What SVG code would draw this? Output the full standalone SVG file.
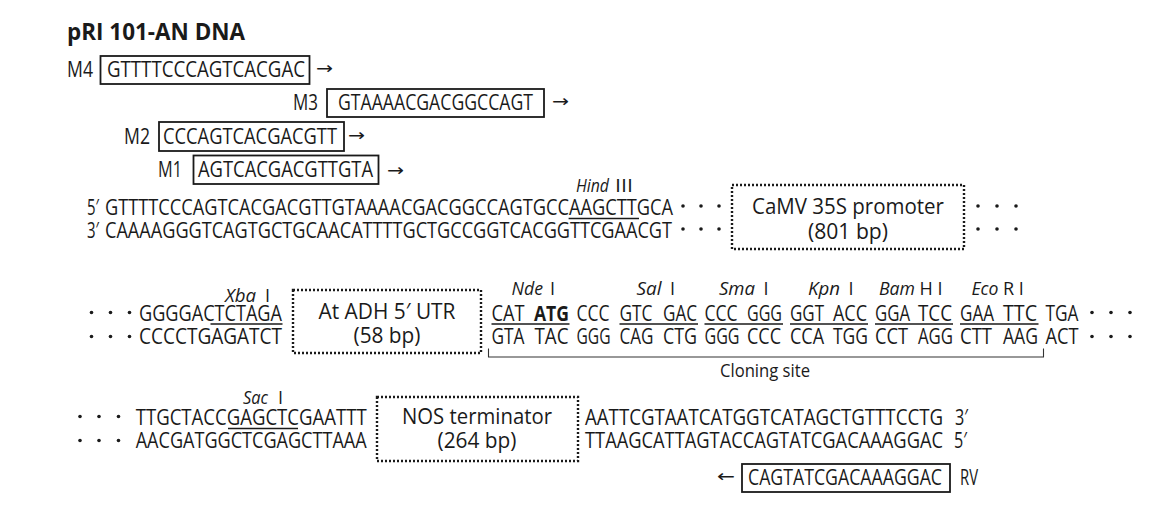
<svg xmlns="http://www.w3.org/2000/svg" width="1171" height="529" viewBox="0 0 1171 529">
<style>
text{font-family:"Open Sans","Noto Sans","Liberation Sans",sans-serif;fill:#1a1a1a}
.s{font-size:21.5px}
.l{font-size:18px}
.it{font-style:italic}
.b{font-weight:bold}
.ar{font-family:"DejaVu Sans",sans-serif;font-size:17px}
.box{fill:none;stroke:#1a1a1a;stroke-width:1.8}
.dot{fill:none;stroke:#1a1a1a;stroke-width:2.4;stroke-dasharray:2 2}
.ul{stroke:#1a1a1a;stroke-width:1.7}
.br{fill:none;stroke:#333;stroke-width:1.1}
circle{fill:#1a1a1a}
</style>
<rect width="1171" height="529" fill="#fff"/>
<g id="title"><text x="67" y="40" class="b" font-size="23.5" textLength="178" lengthAdjust="spacingAndGlyphs">pRI 101-AN DNA</text></g>

<g id="primer-M4">
<text class="s" x="67" y="77" textLength="26" lengthAdjust="spacingAndGlyphs">M4</text>
<rect class="box" x="100.5" y="56" width="209" height="28"/>
<text class="s" x="107" y="77" textLength="198" lengthAdjust="spacingAndGlyphs">GTTTTCCCAGTCACGAC</text>
<text class="ar" x="316" y="74" textLength="17" lengthAdjust="spacingAndGlyphs">→</text>
</g>
<g id="primer-M3">
<text class="s" x="293" y="110" textLength="25" lengthAdjust="spacingAndGlyphs">M3</text>
<rect class="box" x="327" y="89" width="217" height="28"/>
<text class="s" x="338" y="110" textLength="195" lengthAdjust="spacingAndGlyphs">GTAAAACGACGGCCAGT</text>
<text class="ar" x="552" y="107" textLength="17" lengthAdjust="spacingAndGlyphs">→</text>
</g>
<g id="primer-M2">
<text class="s" x="124" y="143.5" textLength="26" lengthAdjust="spacingAndGlyphs">M2</text>
<rect class="box" x="159" y="122" width="185" height="29"/>
<text class="s" x="163" y="143.5" textLength="174" lengthAdjust="spacingAndGlyphs">CCCAGTCACGACGTT</text>
<text class="ar" x="348" y="141" textLength="17" lengthAdjust="spacingAndGlyphs">→</text>
</g>
<g id="primer-M1">
<text class="s" x="158" y="177" textLength="24" lengthAdjust="spacingAndGlyphs">M1</text>
<rect class="box" x="193.5" y="155.5" width="185" height="28.5"/>
<text class="s" x="198" y="177" textLength="175" lengthAdjust="spacingAndGlyphs">AGTCACGACGTTGTA</text>
<text class="ar" x="387" y="175.5" textLength="17" lengthAdjust="spacingAndGlyphs">→</text>
</g>

<g id="seq-top">
<text class="l" x="576" y="192"><tspan class="it" textLength="33" lengthAdjust="spacingAndGlyphs">Hind</tspan><tspan x="615" textLength="18" lengthAdjust="spacingAndGlyphs">III</tspan></text>
<text class="s" x="87" y="214.5" textLength="12" lengthAdjust="spacingAndGlyphs">5′</text>
<text class="s" x="105" y="214.5" textLength="568" lengthAdjust="spacingAndGlyphs">GTTTTCCCAGTCACGACGTTGTAAAACGACGGCCAGTGCCAAGCTTGCA</text>
<text class="s" x="87" y="237.5" textLength="12" lengthAdjust="spacingAndGlyphs">3′</text>
<text class="s" x="105" y="237.5" textLength="567" lengthAdjust="spacingAndGlyphs">CAAAAGGGTCAGTGCTGCAACATTTTGCTGCCGGTCACGGTTCGAACGT</text>
<line class="ul" x1="568.6" y1="218.5" x2="639" y2="218.5"/>
<circle cx="683" cy="206" r="1.8"/><circle cx="701" cy="206" r="1.8"/><circle cx="719" cy="206" r="1.8"/>
<circle cx="683" cy="229" r="1.8"/><circle cx="701" cy="229" r="1.8"/><circle cx="719" cy="229" r="1.8"/>
<circle cx="978" cy="206" r="1.8"/><circle cx="997" cy="206" r="1.8"/><circle cx="1016" cy="206" r="1.8"/>
<circle cx="978" cy="229" r="1.8"/><circle cx="997" cy="229" r="1.8"/><circle cx="1016" cy="229" r="1.8"/>
</g>
<g id="camv35s">
<rect class="dot" x="732" y="185" width="232" height="64"/>
<text class="s" x="848" y="213.5" text-anchor="middle" textLength="192" lengthAdjust="spacingAndGlyphs">CaMV 35S promoter</text>
<text class="s" x="848" y="239" text-anchor="middle" textLength="80" lengthAdjust="spacingAndGlyphs">(801 bp)</text>
</g>

<g id="seq-middle-left">
<circle cx="91.5" cy="312.5" r="1.8"/><circle cx="110.5" cy="312.5" r="1.8"/><circle cx="129.5" cy="312.5" r="1.8"/>
<circle cx="91.5" cy="336.5" r="1.8"/><circle cx="110.5" cy="336.5" r="1.8"/><circle cx="129.5" cy="336.5" r="1.8"/>
<text class="l" x="225" y="301.5"><tspan class="it" textLength="31" lengthAdjust="spacingAndGlyphs">Xba</tspan><tspan x="265">I</tspan></text>
<text class="s" x="139" y="320.5" textLength="143" lengthAdjust="spacingAndGlyphs">GGGGACTCTAGA</text>
<text class="s" x="139" y="344" textLength="143" lengthAdjust="spacingAndGlyphs">CCCCTGAGATCT</text>
<line class="ul" x1="210.5" y1="324" x2="282.5" y2="324"/>
</g>
<g id="at-adh-utr">
<rect class="dot" x="293" y="290" width="188" height="63"/>
<text class="s" x="387" y="318.5" text-anchor="middle" textLength="137" lengthAdjust="spacingAndGlyphs">At ADH 5′ UTR</text>
<text class="s" x="387" y="343" text-anchor="middle" textLength="67" lengthAdjust="spacingAndGlyphs">(58 bp)</text>
</g>

<g id="cloning-site">
<g class="l">
<text x="511.5" y="295"><tspan class="it" textLength="31.5" lengthAdjust="spacingAndGlyphs">Nde</tspan><tspan x="550">I</tspan></text>
<text x="636.5" y="295"><tspan class="it" textLength="25" lengthAdjust="spacingAndGlyphs">Sal</tspan><tspan x="670">I</tspan></text>
<text x="719" y="295"><tspan class="it" textLength="36" lengthAdjust="spacingAndGlyphs">Sma</tspan><tspan x="763.5">I</tspan></text>
<text x="808" y="295"><tspan class="it" textLength="32" lengthAdjust="spacingAndGlyphs">Kpn</tspan><tspan x="848.5">I</tspan></text>
<text x="879" y="295"><tspan class="it" textLength="36" lengthAdjust="spacingAndGlyphs">Bam</tspan><tspan x="919.5">H I</tspan></text>
<text x="971.5" y="295"><tspan class="it" textLength="27" lengthAdjust="spacingAndGlyphs">Eco</tspan><tspan x="1003">R I</tspan></text>
</g>
<g class="s">
<text x="491.5" y="320.5" textLength="33" lengthAdjust="spacingAndGlyphs">CAT</text>
<text x="534" y="320.5" class="b" textLength="35" lengthAdjust="spacingAndGlyphs">ATG</text>
<text x="576.5" y="320.5" textLength="33" lengthAdjust="spacingAndGlyphs">CCC</text>
<text x="619.5" y="320.5" textLength="33" lengthAdjust="spacingAndGlyphs">GTC</text>
<text x="663" y="320.5" textLength="34" lengthAdjust="spacingAndGlyphs">GAC</text>
<text x="704.5" y="320.5" textLength="33" lengthAdjust="spacingAndGlyphs">CCC</text>
<text x="747" y="320.5" textLength="35" lengthAdjust="spacingAndGlyphs">GGG</text>
<text x="790" y="320.5" textLength="34" lengthAdjust="spacingAndGlyphs">GGT</text>
<text x="833" y="320.5" textLength="34" lengthAdjust="spacingAndGlyphs">ACC</text>
<text x="875" y="320.5" textLength="35" lengthAdjust="spacingAndGlyphs">GGA</text>
<text x="918" y="320.5" textLength="34" lengthAdjust="spacingAndGlyphs">TCC</text>
<text x="960" y="320.5" textLength="34" lengthAdjust="spacingAndGlyphs">GAA</text>
<text x="1003" y="320.5" textLength="34" lengthAdjust="spacingAndGlyphs">TTC</text>
<text x="1045.5" y="320.5" textLength="33" lengthAdjust="spacingAndGlyphs">TGA</text>
<text x="491.5" y="344" textLength="33" lengthAdjust="spacingAndGlyphs">GTA</text>
<text x="534.5" y="344" textLength="34" lengthAdjust="spacingAndGlyphs">TAC</text>
<text x="576.5" y="344" textLength="34" lengthAdjust="spacingAndGlyphs">GGG</text>
<text x="619.5" y="344" textLength="34" lengthAdjust="spacingAndGlyphs">CAG</text>
<text x="663" y="344" textLength="34" lengthAdjust="spacingAndGlyphs">CTG</text>
<text x="704.5" y="344" textLength="35" lengthAdjust="spacingAndGlyphs">GGG</text>
<text x="747" y="344" textLength="34" lengthAdjust="spacingAndGlyphs">CCC</text>
<text x="790" y="344" textLength="34" lengthAdjust="spacingAndGlyphs">CCA</text>
<text x="833" y="344" textLength="35" lengthAdjust="spacingAndGlyphs">TGG</text>
<text x="875" y="344" textLength="33" lengthAdjust="spacingAndGlyphs">CCT</text>
<text x="918" y="344" textLength="35" lengthAdjust="spacingAndGlyphs">AGG</text>
<text x="960" y="344" textLength="32" lengthAdjust="spacingAndGlyphs">CTT</text>
<text x="1003" y="344" textLength="35" lengthAdjust="spacingAndGlyphs">AAG</text>
<text x="1045.5" y="344" textLength="33" lengthAdjust="spacingAndGlyphs">ACT</text>
</g>
<line class="ul" x1="491.5" y1="324" x2="569.5" y2="324"/>
<line class="ul" x1="619.5" y1="324" x2="698" y2="324"/>
<line class="ul" x1="704.5" y1="324" x2="783" y2="324"/>
<line class="ul" x1="790" y1="324" x2="868" y2="324"/>
<line class="ul" x1="875" y1="324" x2="953" y2="324"/>
<line class="ul" x1="960" y1="324" x2="1038.5" y2="324"/>
<circle cx="1092" cy="312.5" r="1.8"/><circle cx="1111" cy="312.5" r="1.8"/><circle cx="1130" cy="312.5" r="1.8"/>
<circle cx="1092" cy="336.5" r="1.8"/><circle cx="1111" cy="336.5" r="1.8"/><circle cx="1130" cy="336.5" r="1.8"/>
<text class="l" x="765" y="377" text-anchor="middle" textLength="90" lengthAdjust="spacingAndGlyphs">Cloning site</text>
</g>

<g id="seq-bottom">
<circle cx="80" cy="416.5" r="1.8"/><circle cx="99" cy="416.5" r="1.8"/><circle cx="118.5" cy="416.5" r="1.8"/>
<circle cx="80" cy="440.5" r="1.8"/><circle cx="99" cy="440.5" r="1.8"/><circle cx="118.5" cy="440.5" r="1.8"/>
<text class="l" x="243" y="404"><tspan class="it" textLength="25" lengthAdjust="spacingAndGlyphs">Sac</tspan><tspan x="278">I</tspan></text>
<text class="s" x="135.7" y="424.5" textLength="231" lengthAdjust="spacingAndGlyphs">TTGCTACCGAGCTCGAATTT</text>
<text class="s" x="135.7" y="448" textLength="231" lengthAdjust="spacingAndGlyphs">AACGATGGCTCGAGCTTAAA</text>
<line class="ul" x1="228" y1="428.5" x2="298" y2="428.5"/>
<text class="s" x="585" y="424.5" textLength="358" lengthAdjust="spacingAndGlyphs">AATTCGTAATCATGGTCATAGCTGTTTCCTG</text>
<text class="s" x="955" y="424.5" textLength="13" lengthAdjust="spacingAndGlyphs">3′</text>
<text class="s" x="585" y="448" textLength="358" lengthAdjust="spacingAndGlyphs">TTAAGCATTAGTACCAGTATCGACAAAGGAC</text>
<text class="s" x="954" y="448" textLength="13" lengthAdjust="spacingAndGlyphs">5′</text>
</g>
<g id="nos-terminator">
<rect class="dot" x="377" y="397" width="201" height="64"/>
<text class="s" x="477" y="423.5" text-anchor="middle" textLength="150" lengthAdjust="spacingAndGlyphs">NOS terminator</text>
<text class="s" x="477" y="448" text-anchor="middle" textLength="79" lengthAdjust="spacingAndGlyphs">(264 bp)</text>
</g>

<g id="primer-RV">
<text class="ar" x="717" y="482" textLength="18" lengthAdjust="spacingAndGlyphs">←</text>
<rect class="box" x="742" y="464" width="208" height="28"/>
<text class="s" x="748" y="485" textLength="194" lengthAdjust="spacingAndGlyphs">CAGTATCGACAAAGGAC</text>
<text class="s" x="960" y="485" textLength="18" lengthAdjust="spacingAndGlyphs">RV</text>
</g>

<g id="connectors">
<path class="br" d="M488.5 348.5 V357 H1043.5 V348.5"/>
</g>
</svg>
